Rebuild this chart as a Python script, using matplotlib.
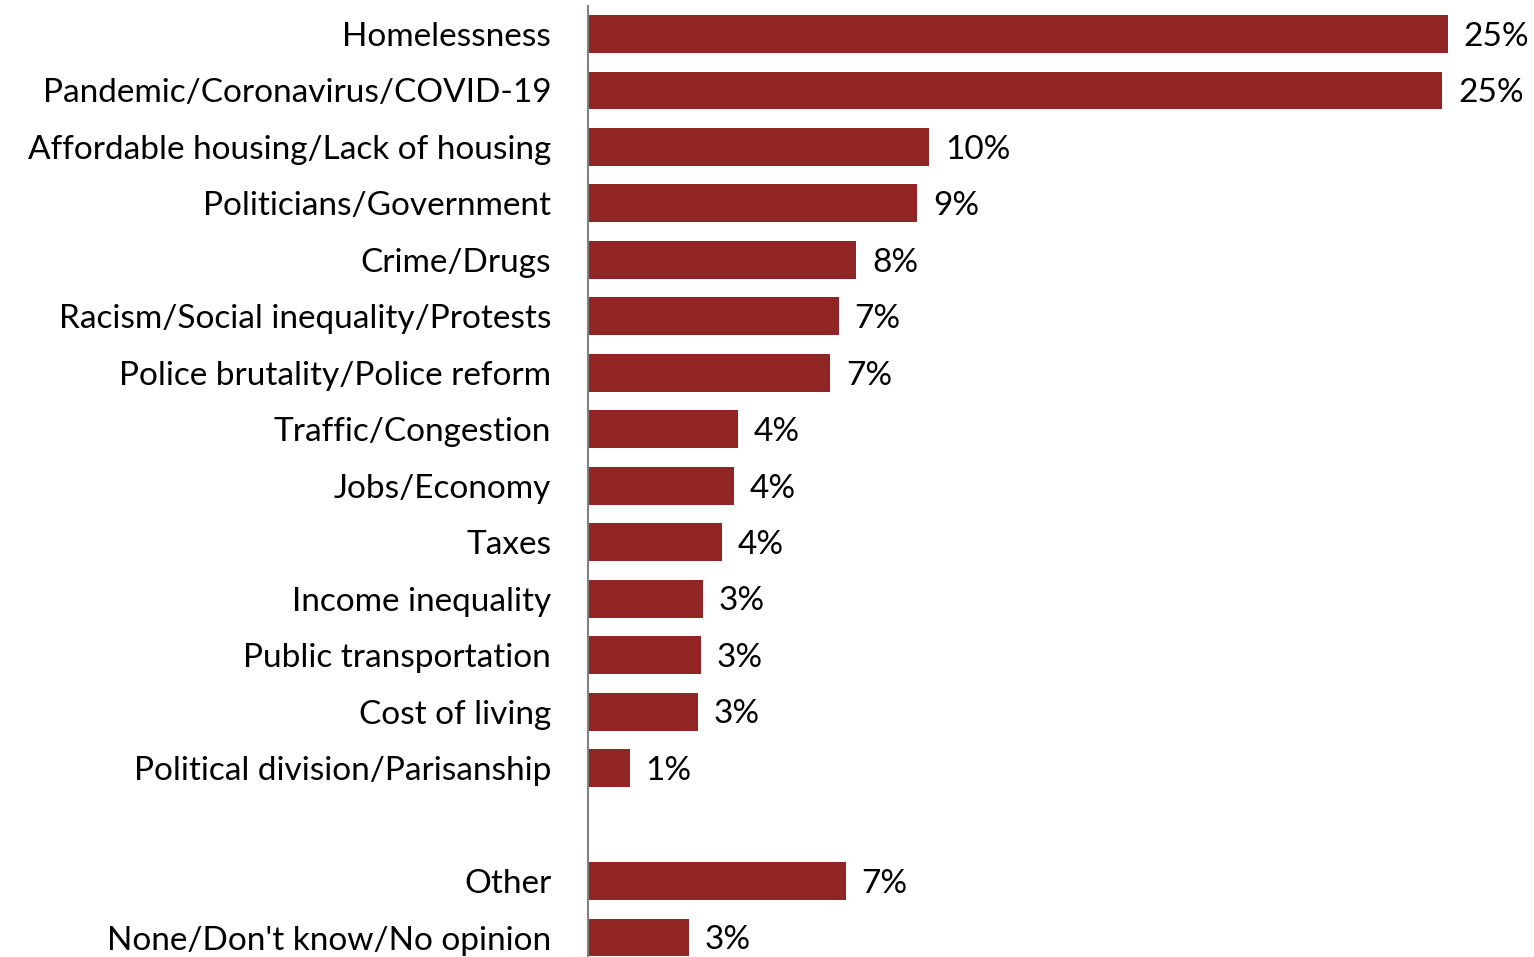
import matplotlib
matplotlib.use("Agg")
import matplotlib.pyplot as plt

categories = [
    "Homelessness",
    "Pandemic/Coronavirus/COVID-19",
    "Affordable housing/Lack of housing",
    "Politicians/Government",
    "Crime/Drugs",
    "Racism/Social inequality/Protests",
    "Police brutality/Police reform",
    "Traffic/Congestion",
    "Jobs/Economy",
    "Taxes",
    "Income inequality",
    "Public transportation",
    "Cost of living",
    "Political division/Parisanship",
    "Other",
    "None/Don't know/No opinion",
]
values = [24.7, 24.55, 9.8, 9.45, 7.7, 7.2, 6.95, 4.3, 4.2, 3.85, 3.3, 3.25, 3.15, 1.2, 7.4, 2.9]
# row slots: a blank row separates the last two categories from the rest
positions = list(range(14)) + [15, 16]

bar_color = "#912523"
plt.rcParams["font.family"] = ["Lato", "DejaVu Sans"]
FS = 24

W, H = 1534, 957
fig = plt.figure(figsize=(W / 100, H / 100), dpi=100)
left = 588 / W
top_px = 6
ax = fig.add_axes([left, 0, 1 - left, (H - top_px) / H])

ax.barh(positions, values, height=0.67, color=bar_color)
for p, v in zip(positions, values):
    ax.annotate(f"{v:.0f}%", xy=(v, p), xytext=(11.5, -2), textcoords="offset points",
                va="center", ha="left", fontsize=FS, color="black")

ax.set_xlim(0, (W - 588) / 34.8)
ax.set_ylim(16.345, -0.496)
ax.set_yticks(positions)
ax.set_yticklabels(categories, fontsize=FS)
ax.tick_params(axis="y", length=0, pad=26.5)
ax.set_xticks([])
for s in ["top", "right", "bottom"]:
    ax.spines[s].set_visible(False)
ax.spines["left"].set_color("#808080")
ax.spines["left"].set_linewidth(1.5)

fig.savefig("out.png", dpi=100)
